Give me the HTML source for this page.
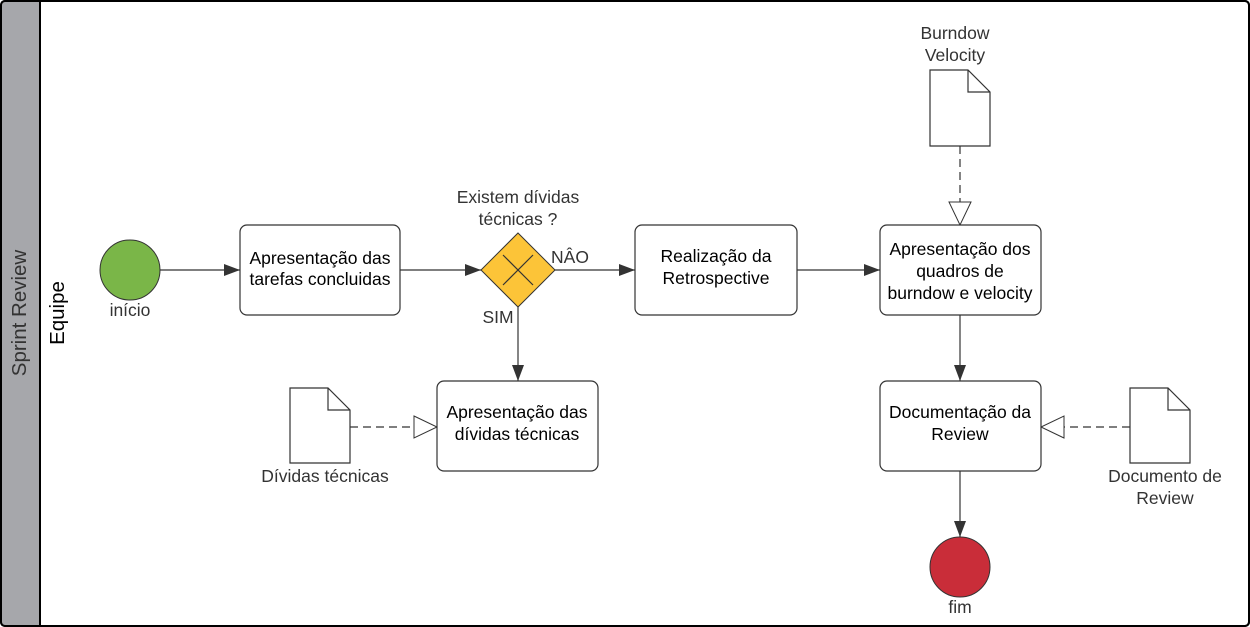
<!DOCTYPE html>
<html><head><meta charset="utf-8"><style>body{margin:0;background:#fff}svg{display:block}text{font-family:"Liberation Sans",sans-serif}</style></head><body>
<svg width="1250" height="627" viewBox="0 0 1250 627" xmlns="http://www.w3.org/2000/svg">
<defs>
<marker id="a" markerWidth="16" markerHeight="12" refX="16" refY="6" orient="auto" markerUnits="userSpaceOnUse"><path d="M0,0 L16,6 L0,12 Z" fill="#333"/></marker>
<marker id="h" markerWidth="26" markerHeight="24" refX="24" refY="12" orient="auto" markerUnits="userSpaceOnUse"><path d="M1,1 L24,12 L1,23 Z" fill="#fff" stroke="#333" stroke-width="1"/></marker>
</defs>
<rect x="1" y="1" width="1248" height="625" rx="4" fill="#fff" stroke="#000" stroke-width="2"/>
<rect x="1" y="1" width="39" height="625" fill="#a6a7ab"/>
<line x1="40" y1="0" x2="40" y2="627" stroke="#000" stroke-width="2"/>
<rect x="1" y="1" width="1248" height="625" rx="4" fill="none" stroke="#000" stroke-width="2"/>
<text transform="translate(26,313) rotate(-90)" text-anchor="middle" font-size="20.5" fill="#333">Sprint Review</text>
<text transform="translate(64,313) rotate(-90)" text-anchor="middle" font-size="20.5" fill="#000">Equipe</text>
<g stroke="#333" stroke-width="1.2" fill="none">
<line x1="160" y1="270" x2="240" y2="270" marker-end="url(#a)"/>
<line x1="400" y1="270" x2="481" y2="270" marker-end="url(#a)"/>
<line x1="555" y1="270" x2="635" y2="270" marker-end="url(#a)"/>
<line x1="797" y1="270" x2="880" y2="270" marker-end="url(#a)"/>
<line x1="518" y1="307" x2="518" y2="381" marker-end="url(#a)"/>
<line x1="960" y1="315" x2="960" y2="381" marker-end="url(#a)"/>
<line x1="960" y1="471" x2="960" y2="537" marker-end="url(#a)"/>
<line x1="960" y1="146" x2="960" y2="225" stroke-dasharray="8,5" marker-end="url(#h)"/>
<line x1="350" y1="427" x2="437" y2="427" stroke-dasharray="8,5" marker-end="url(#h)"/>
<line x1="1130" y1="427" x2="1041" y2="427" stroke-dasharray="8,5" marker-end="url(#h)"/>
</g>
<circle cx="130" cy="270" r="30" fill="#7ab648" stroke="#333" stroke-width="1"/>
<circle cx="960" cy="567" r="30" fill="#c92d39" stroke="#333" stroke-width="1"/>
<path d="M518,233 L555,270 L518,307 L481,270 Z" fill="#fcc438" stroke="#333" stroke-width="1"/>
<path d="M503,255 L533,285 M533,255 L503,285" stroke="#333" stroke-width="1.2"/>
<g fill="#fff" stroke="#333" stroke-width="1.2">
<rect x="240" y="225" width="160" height="90" rx="7"/>
<rect x="437" y="381" width="161" height="90" rx="7"/>
<rect x="635" y="225" width="162" height="90" rx="7"/>
<rect x="880" y="225" width="161" height="90" rx="7"/>
<rect x="880" y="381" width="161" height="90" rx="7"/>
<path d="M930,70 L968,70 L990,92 L990,146 L930,146 Z M968,70 L968,92 L990,92"/>
<path d="M290,388 L328,388 L350,410 L350,463 L290,463 Z M328,388 L328,410 L350,410"/>
<path d="M1130,388 L1168,388 L1190,410 L1190,463 L1130,463 Z M1168,388 L1168,410 L1190,410"/>
</g>
<g font-size="17.5" fill="#000" text-anchor="middle">
<text x="320" y="264">Apresentação das</text><text x="320" y="285">tarefas concluidas</text>
<text x="517" y="418">Apresentação das</text><text x="517" y="440">dívidas técnicas</text>
<text x="716" y="262">Realização da</text><text x="716" y="284">Retrospective</text>
<text x="960" y="255">Apresentação dos</text><text x="960" y="277">quadros de</text><text x="960" y="299">burndow e velocity</text>
<text x="960" y="418">Documentação da</text><text x="960" y="440">Review</text>
</g>
<g font-size="17.5" fill="#333" text-anchor="middle">
<text x="130" y="316">início</text>
<text x="960" y="613">fim</text>
<text x="518" y="203">Existem dívidas</text><text x="518" y="225">técnicas ?</text>
<text x="570" y="263">NÂO</text>
<text x="498" y="323">SIM</text>
<text x="955" y="39">Burndow</text><text x="955" y="61">Velocity</text>
<text x="325" y="482">Dívidas técnicas</text>
<text x="1165" y="482">Documento de</text><text x="1165" y="504">Review</text>
</g>
</svg>
</body></html>
